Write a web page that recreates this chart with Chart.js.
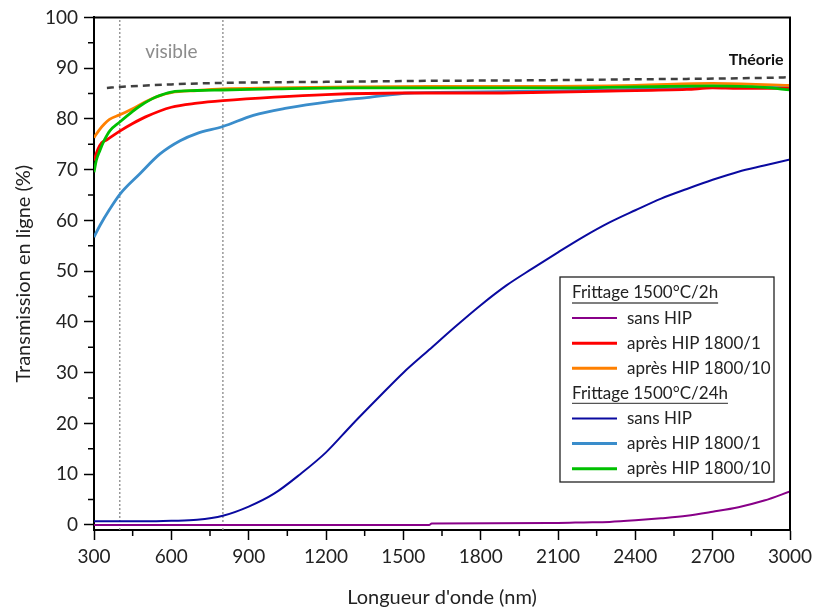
<!DOCTYPE html>
<html>
<head>
<meta charset="utf-8">
<script src="https://cdn.jsdelivr.net/npm/chart.js@4"></script>
<style>
  html, body { margin: 0; padding: 0; background: #fff; }
  #wrap { width: 814px; height: 614px; }
</style>
</head>
<body>
<div id="wrap"><canvas id="graph" width="814" height="614"></canvas></div>
<script>
// longueurs d'onde (nm) et transmissions (%)
const theorieX = [350, 400, 600, 800, 1200, 1600, 2000, 2400, 2800, 3000];
const theorieY = [86.1, 86.3, 86.8, 87.1, 87.3, 87.5, 87.6, 87.8, 88.0, 88.2];

// Frittage 1500°C/2h
const sans2hX = [300, 1600, 1610, 2100, 2200, 2300, 2400, 2500, 2600, 2700, 2800, 2900, 3000];
const sans2hY = [0.0, 0.0, 0.3, 0.4, 0.5, 0.6, 0.9, 1.3, 1.8, 2.6, 3.5, 4.8, 6.6];
const hip1_2hX = [300, 315, 330, 350, 400, 450, 500, 600, 700, 800, 1000, 1200, 1500, 1800, 2000, 2300, 2600, 2700, 2800, 3000];
const hip1_2hY = [71.8, 74.0, 75.3, 75.9, 77.6, 79.1, 80.4, 82.3, 83.1, 83.6, 84.3, 84.8, 85.1, 85.1, 85.2, 85.5, 85.8, 86.1, 86.0, 86.0];
const hip10_2hX = [300, 320, 340, 360, 400, 450, 500, 550, 600, 700, 800, 1000, 1300, 1600, 2000, 2400, 2700, 3000];
const hip10_2hY = [76.3, 77.8, 79.0, 79.9, 80.8, 82.0, 83.4, 84.5, 85.2, 85.6, 85.9, 86.1, 86.3, 86.4, 86.4, 86.6, 87.0, 86.6];

// Frittage 1500°C/24h
const sans24hX = [300, 400, 500, 600, 700, 800, 900, 1000, 1100, 1200, 1300, 1400, 1500, 1600, 1700, 1800, 1900, 2000, 2100, 2200, 2300, 2400, 2500, 2600, 2700, 2800, 2900, 3000];
const sans24hY = [0.7, 0.7, 0.7, 0.8, 1.0, 1.8, 3.6, 6.2, 10.0, 14.3, 19.7, 24.9, 30.0, 34.5, 39.0, 43.3, 47.2, 50.5, 53.7, 56.8, 59.6, 62.0, 64.3, 66.2, 68.0, 69.6, 70.8, 72.0];
const hip1_24hX = [300, 323, 362, 401, 478, 556, 634, 698, 800, 918, 1047, 1215, 1358, 1526, 1800, 2100, 2400, 2700, 3000];
const hip1_24hY = [56.7, 59.0, 62.3, 65.2, 69.2, 73.1, 75.7, 77.1, 78.5, 80.7, 82.1, 83.4, 84.2, 85.1, 85.3, 85.5, 85.8, 86.2, 86.3];
const hip10_24hX = [300, 310, 323, 340, 362, 400, 450, 480, 540, 600, 700, 800, 1000, 1300, 1600, 2000, 2400, 2700, 2900, 3000];
const hip10_24hY = [69.5, 72.0, 73.8, 75.8, 77.7, 79.4, 81.5, 82.6, 84.3, 85.3, 85.6, 85.7, 85.9, 86.1, 86.1, 86.1, 86.3, 86.5, 86.2, 85.7];

// limites du domaine visible
const visibleBornes = [400, 800];

const FONT = "Lato, 'Open Sans', sans-serif";

function pts(xs, ys) {
  return xs.map((x, i) => ({ x: x, y: ys[i] }));
}

function courbe(label, xs, ys, couleur, epaisseur) {
  return {
    label: label,
    data: pts(xs, ys),
    borderColor: couleur,
    backgroundColor: couleur,
    borderWidth: epaisseur,
    pointRadius: 0,
    cubicInterpolationMode: "monotone",
    fill: false,
  };
}

const datasets = [
  courbe("après HIP 1800/10 (24h)", hip10_24hX, hip10_24hY, "#00C000", 2.8),
  courbe("après HIP 1800/10 (2h)", hip10_2hX, hip10_2hY, "#FF8000", 2.8),
  courbe("après HIP 1800/1 (2h)", hip1_2hX, hip1_2hY, "#FF0000", 2.8),
  courbe("après HIP 1800/1 (24h)", hip1_24hX, hip1_24hY, "#3A8DCB", 2.8),
  courbe("sans HIP (24h)", sans24hX, sans24hY, "#0A0AA0", 2),
  courbe("sans HIP (2h)", sans2hX, sans2hY, "#880088", 2),
  Object.assign(courbe("Théorie", theorieX, theorieY, "#404040", 2.5), { borderDash: [7, 5] }),
];

visibleBornes.forEach((b) => {
  datasets.push({
    label: "borne " + b,
    data: [{ x: b, y: -1 }, { x: b, y: 100 }],
    borderColor: "#8a8a8a",
    borderWidth: 1.3,
    borderDash: [2, 2],
    pointRadius: 0,
  });
});

// entrées de la légende (titres soulignés + courbes)
const legende = [
  { titre: "Frittage 1500°C/2h" },
  { texte: "sans HIP", couleur: "#880088", ep: 2 },
  { texte: "après HIP 1800/1", couleur: "#FF0000", ep: 3 },
  { texte: "après HIP 1800/10", couleur: "#FF8000", ep: 3 },
  { titre: "Frittage 1500°C/24h" },
  { texte: "sans HIP", couleur: "#0A0AA0", ep: 2 },
  { texte: "après HIP 1800/1", couleur: "#3A8DCB", ep: 3 },
  { texte: "après HIP 1800/10", couleur: "#00C000", ep: 3 },
];

const decor = {
  id: "decor",
  afterDraw(chart) {
    const ctx = chart.ctx;
    const a = chart.chartArea;
    const sx = chart.scales.x;
    const sy = chart.scales.y;
    ctx.save();

    // cadre haut et droit
    ctx.strokeStyle = "#000";
    ctx.lineWidth = 2;
    ctx.beginPath();
    ctx.moveTo(a.left, a.top);
    ctx.lineTo(a.right, a.top);
    ctx.lineTo(a.right, a.bottom);
    ctx.stroke();

    // graduations secondaires
    ctx.lineWidth = 1.5;
    ctx.beginPath();
    for (let v = 450; v < 3000; v += 300) {
      const px = sx.getPixelForValue(v);
      ctx.moveTo(px, a.bottom);
      ctx.lineTo(px, a.bottom + 6);
    }
    for (let v = 5; v < 100; v += 10) {
      const py = sy.getPixelForValue(v);
      ctx.moveTo(a.left, py);
      ctx.lineTo(a.left - 6, py);
    }
    ctx.stroke();

    // annotations
    ctx.font = "19px " + FONT;
    ctx.fillStyle = "#8c8c8c";
    ctx.textAlign = "center";
    ctx.textBaseline = "middle";
    ctx.fillText("visible", sx.getPixelForValue(600), sy.getPixelForValue(93.2));

    ctx.font = "bold 16px " + FONT;
    ctx.fillStyle = "#111";
    ctx.textAlign = "right";
    ctx.fillText("Théorie", sx.getPixelForValue(2975), sy.getPixelForValue(91.6));

    // légende
    const bx = a.right - 230, by = a.bottom - 253, bw = 214, bh = 205;
    ctx.fillStyle = "#fff";
    ctx.fillRect(bx, by, bw, bh);
    ctx.strokeStyle = "#222";
    ctx.lineWidth = 1.3;
    ctx.strokeRect(bx, by, bw, bh);
    ctx.font = "17px " + FONT;
    ctx.textAlign = "left";
    ctx.textBaseline = "middle";
    legende.forEach((e, i) => {
      const y = by + 16 + i * 25.1;
      if (e.titre) {
        ctx.fillStyle = "#222";
        ctx.fillText(e.titre, bx + 12, y);
        const w = ctx.measureText(e.titre).width;
        ctx.strokeStyle = "#555";
        ctx.lineWidth = 1.3;
        ctx.beginPath();
        ctx.moveTo(bx + 12, y + 10);
        ctx.lineTo(bx + 12 + w, y + 10);
        ctx.stroke();
      } else {
        ctx.strokeStyle = e.couleur;
        ctx.lineWidth = e.ep;
        ctx.beginPath();
        ctx.moveTo(bx + 12, y);
        ctx.lineTo(bx + 57, y);
        ctx.stroke();
        ctx.fillStyle = "#222";
        ctx.fillText(e.texte, bx + 67, y);
      }
    });
    ctx.restore();
  },
};

new Chart(document.getElementById("graph"), {
  type: "line",
  data: { datasets: datasets },
  plugins: [decor],
  options: {
    responsive: false,
    animation: false,
    layout: { padding: { top: 17, right: 24, left: 0, bottom: 0 } },
    plugins: { legend: { display: false }, tooltip: { enabled: false } },
    scales: {
      x: {
        type: "linear",
        min: 300,
        max: 3000,
        afterFit: (s) => {
          s.height = 84;
          s.paddingLeft = 0;
          s.paddingRight = 0;
        },
        afterBuildTicks: (s) => {
          s.ticks = [];
          for (let v = 300; v <= 3000; v += 300) s.ticks.push({ value: v });
        },
        ticks: {
          font: { family: FONT, size: 19 },
          color: "#222",
          padding: 5,
          maxRotation: 0,
          callback: (v) => String(v),
        },
        grid: { drawOnChartArea: false, tickLength: 10, tickColor: "#000", tickWidth: 1.5 },
        border: { color: "#000", width: 2 },
        title: {
          display: true,
          text: "Longueur d'onde (nm)",
          font: { family: FONT, size: 20 },
          color: "#222",
          padding: { top: 4, bottom: 4 },
        },
      },
      y: {
        min: -1,
        max: 100,
        afterFit: (s) => { s.width = 94; },
        afterBuildTicks: (s) => {
          s.ticks = [];
          for (let v = 0; v <= 100; v += 10) s.ticks.push({ value: v });
        },
        ticks: { font: { family: FONT, size: 19 }, color: "#222", padding: 6, callback: (v) => String(v) },
        grid: { drawOnChartArea: false, tickLength: 10, tickColor: "#000", tickWidth: 1.5 },
        border: { color: "#000", width: 2 },
        title: {
          display: true,
          text: "Transmission en ligne (%)",
          font: { family: FONT, size: 20 },
          color: "#222",
          padding: { top: 12, bottom: 4 },
        },
      },
    },
  },
});
</script>
</body>
</html>
